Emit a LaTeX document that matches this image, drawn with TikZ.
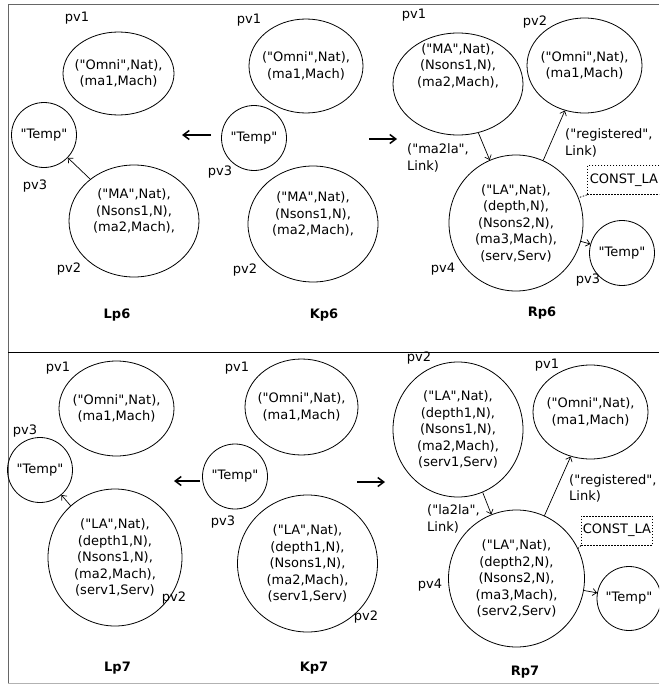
\documentclass[tikz,border=0pt]{standalone}
\usepackage{fontspec}
\setmainfont{DejaVu Sans}[Ligatures=TeXOff]
\usetikzlibrary{shapes.geometric,arrows.meta}

\begin{document}
\begin{tikzpicture}[x=1pt,y=-1pt,>={Straight Barb[length=4pt,width=7pt]},
  every node/.style={font=\fontsize{13}{16.5}\selectfont},
  elli/.style={draw,ellipse,line width=0.8pt,inner sep=-12pt,align=center},
  temp/.style={draw,circle,line width=0.8pt,inner sep=0pt,minimum size=65pt},
  tag/.style={inner sep=0pt},
  ttl/.style={inner sep=0pt,font=\fontsize{13}{16}\selectfont\bfseries},
  link/.style={->,line width=0.7pt},
  morph/.style={-{Straight Barb[length=6pt,width=9pt]},line width=1.5pt},
  constbox/.style={draw,line width=0.8pt,dash pattern=on 1.5pt off 1.5pt,inner xsep=1.5pt,minimum height=29pt,anchor=west},
  dots/.style={line width=0.8pt,dash pattern=on 1.5pt off 1.5pt},
  rel/.style={align=left,anchor=west,inner sep=0pt}]

\useasboundingbox (0,0) rectangle (659,685);
\clip (0,0) rectangle (659,685);

% frame
\draw[black!60,line width=1pt] (8,683) -- (8,5) -- (659,5);
\draw[black!30,line width=1pt] (8,683) -- (659,683);
\draw[line width=1pt] (8,352) -- (659,352);

% Lp6
\node[elli,minimum width=111pt,minimum height=83pt] (lp6omni) at (118.5,73.5) {("Omni",Nat),\\(ma1,Mach)};
\node[temp] (lp6temp) at (44,135) {"Temp"};
\node[elli,minimum width=130pt,minimum height=112pt] (lp6ma) at (134,221) {("MA",Nat),\\(Nsons1,N),\\(ma2,Mach),\\\strut};
\draw[link] (lp6ma) -- (lp6temp);

% Kp6
\node[elli,minimum width=114pt,minimum height=94pt] (kp6omni) at (306,66) {("Omni",Nat),\\(ma1,Mach)};
\node[temp] (kp6temp) at (254,138) {"Temp"};
\node[elli,minimum width=130pt,minimum height=116pt] (kp6ma) at (313,224) {("MA",Nat),\\(Nsons1,N),\\(ma2,Mach),\\\strut};

% Rp6
\node[elli,minimum width=130pt,minimum height=102pt] (rp6ma) at (458,84) {("MA",Nat),\\(Nsons1,N),\\(ma2,Mach),\\\strut\\\strut};
\node[elli,minimum width=115pt,minimum height=95pt] (rp6omni) at (584.5,65.5) {("Omni",Nat),\\(ma1,Mach)};
\node[elli,minimum width=134pt,minimum height=136pt] (rp6la) at (516,223) {("LA",Nat),\\(depth,N),\\(Nsons2,N),\\(ma3,Mach),\\(serv,Serv)};
\node[temp] (rp6temp) at (622,253) {"Temp"};
\node[constbox,minimum width=80pt,text width=75pt] (rp6const) at (587,180) {CONST\_LA};
\node[rel] (rp6rel1) at (407,158) {("ma2la",\\Link)};
\node[rel] (rp6rel2) at (565,143) {("registered",\\Link)};
\draw[link] (rp6ma) -- (rp6la);
\draw[link] (rp6la) -- (rp6omni);
\draw[link] (rp6la) -- (rp6temp);
\draw[dots] (rp6const.south west) -- (rp6la.22);

% morphisms of p6
\coordinate (l6a) at (211,135);
\coordinate (l6b) at (182,135);
\coordinate (r6a) at (369,139);
\coordinate (r6b) at (397,139);
\draw[morph] (l6a) -- (l6b);
\draw[morph] (r6a) -- (r6b);

% Lp7
\node[elli,minimum width=115pt,minimum height=95pt] (lp7omni) at (116.5,408.5) {("Omni",Nat),\\(ma1,Mach)};
\node[temp] (lp7temp) at (40,470) {"Temp"};
\node[elli,minimum width=134pt,minimum height=137pt] (lp7la) at (115,557.5) {("LA",Nat),\\(depth1,N),\\(Nsons1,N),\\(ma2,Mach),\\(serv1,Serv)};
\draw[link] (lp7la) -- (lp7temp);

% Kp7
\node[elli,minimum width=113pt,minimum height=96pt] (kp7omni) at (301.5,407) {("Omni",Nat),\\(ma1,Mach)};
\node[temp] (kp7temp) at (235,476.5) {"Temp"};
\node[elli,minimum width=140pt,minimum height=137pt] (kp7la) at (307.5,563.5) {("LA",Nat),\\(depth1,N),\\(Nsons1,N),\\(ma2,Mach),\\(serv1,Serv)};

% Rp7
\node[elli,minimum width=130pt,minimum height=135pt] (rp7la1) at (458,429.5) {("LA",Nat),\\(depth1,N),\\(Nsons1,N),\\(ma2,Mach),\\(serv1,Serv)};
\node[elli,minimum width=115pt,minimum height=94pt] (rp7omni) at (590.5,412) {("Omni",Nat),\\(ma1,Mach)};
\node[elli,minimum width=136pt,minimum height=137pt] (rp7la2) at (516.5,578.5) {("LA",Nat),\\(depth2,N),\\(Nsons2,N),\\(ma3,Mach),\\(serv2,Serv)};
\node[temp,minimum size=64pt] (rp7temp) at (629,598.5) {"Temp"};
\node[constbox] (rp7const) at (581,530.5) {CONST\_LA};
\node[rel] (rp7rel1) at (427,519) {("la2la",\\Link)};
\node[rel] (rp7rel2) at (569,488.5) {("registered",\\Link)};
\draw[link] (rp7la1) -- (rp7la2);
\draw[link] (rp7la2) -- (rp7omni);
\draw[link] (rp7la2) -- (rp7temp);
\draw[dots] (rp7const.south west) -- (rp7la2.26);

% morphisms of p7
\coordinate (l7a) at (200,481);
\coordinate (l7b) at (174,481);
\coordinate (r7a) at (357,482);
\coordinate (r7b) at (385,482);
\draw[morph] (l7a) -- (l7b);
\draw[morph] (r7a) -- (r7b);

% vertex names
\foreach \nm/\x/\y/\t in {a6/77/18/pv1, b6/35/186/pv3, c6/69/269/pv2,
  d6/249/20/pv1, e6/220/172/pv3, f6/245/270/pv2,
  g6/414/15/pv1, h6/535/22/pv2, i6/443/269/pv4, j6/588/280/pv3,
  a7/58/368/pv1, b7/25/431/pv3, c7/174/598/pv2,
  d7/237/368/pv1, e7/223/522/pv3, f7/366/617/pv2,
  g7/419/358/pv2, h7/547/365/pv1, i7/430/585/pv4}
  \node[tag] (\nm) at (\x,\y) {\t};

% rule names
\node[ttl] (lp6) at (117,315) {Lp6};
\node[ttl] (kp6) at (324,315) {Kp6};
\node[ttl] (rp6) at (542,313) {Rp6};
\node[ttl] (lp7) at (117.5,668) {Lp7};
\node[ttl] (kp7) at (314,668) {Kp7};
\node[ttl] (rp7) at (525,672) {Rp7};
\end{tikzpicture}
\end{document}
